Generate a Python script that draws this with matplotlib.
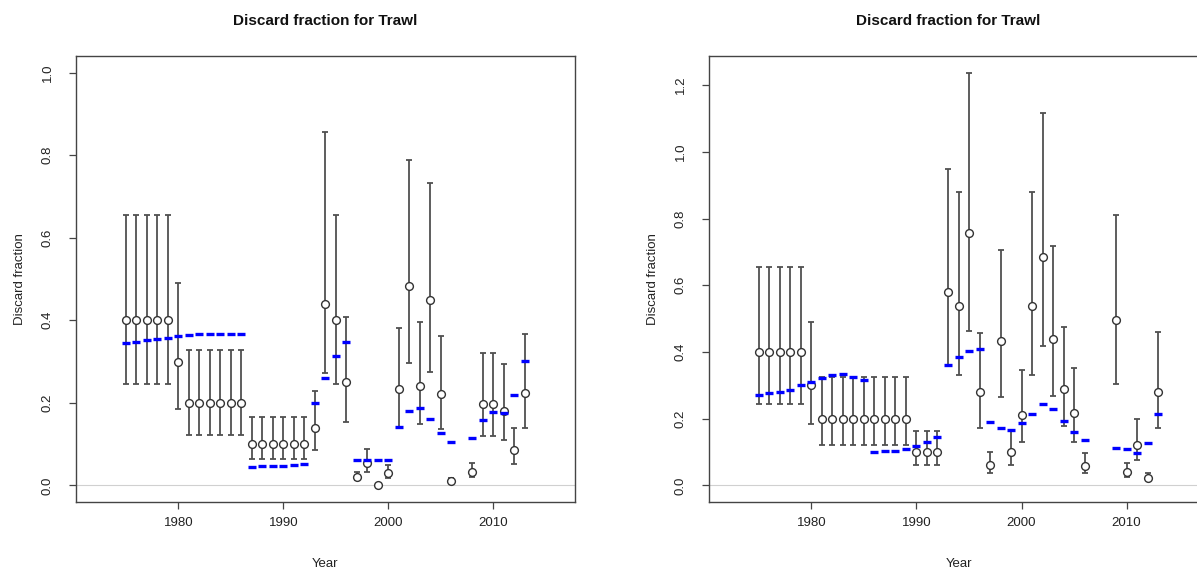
import numpy as np
import matplotlib
matplotlib.use("Agg")
import matplotlib.pyplot as plt

plt.rcParams['font.family'] = ['Liberation Sans', 'DejaVu Sans']

# ---- Panel A data -------------------------------------------------------
years_a = list(range(1975, 2007)) + list(range(2008, 2014))
obs_a = [0.40, 0.40, 0.40, 0.40, 0.40, 0.30,
         0.20, 0.20, 0.20, 0.20, 0.20, 0.20,
         0.10, 0.10, 0.10, 0.10, 0.10, 0.10,
         0.14, 0.44, 0.40, 0.25, 0.020, 0.055, 0.002, 0.030,
         0.233, 0.483, 0.242, 0.448, 0.222, 0.012,
         0.033, 0.197, 0.197, 0.180, 0.086, 0.224]
lo_a = [0.245, 0.245, 0.245, 0.245, 0.245, 0.185,
        0.123, 0.123, 0.123, 0.123, 0.123, 0.123,
        0.063, 0.063, 0.063, 0.063, 0.063, 0.063,
        0.087, 0.272, 0.245, 0.153, 0.013, 0.033, 0.001, 0.019,
        0.142, 0.296, 0.149, 0.276, 0.136, 0.008,
        0.021, 0.121, 0.121, 0.109, 0.053, 0.138]
hi_a = [0.655, 0.655, 0.655, 0.655, 0.655, 0.491,
        0.328, 0.328, 0.328, 0.328, 0.328, 0.328,
        0.165, 0.165, 0.165, 0.165, 0.165, 0.165,
        0.229, 0.856, 0.655, 0.409, 0.033, 0.088, 0.003, 0.050,
        0.381, 0.787, 0.396, 0.732, 0.362, 0.018,
        0.055, 0.322, 0.322, 0.293, 0.140, 0.366]
exp_a = [0.344, 0.348, 0.352, 0.355, 0.358, 0.361,
         0.364, 0.366, 0.366, 0.366, 0.366, 0.366,
         0.045, 0.046, 0.047, 0.048, 0.050, 0.052,
         0.200, 0.260, 0.313, 0.347, 0.062, 0.062, 0.062, 0.062,
         0.142, 0.180, 0.188, 0.162, 0.127, 0.105,
         0.116, 0.158, 0.178, 0.175, 0.218, 0.301]

# ---- Panel B data -------------------------------------------------------
years_b = list(range(1975, 2007)) + list(range(2009, 2014))
obs_b = [0.40, 0.40, 0.40, 0.40, 0.40, 0.30,
         0.20, 0.20, 0.20, 0.20, 0.20, 0.20, 0.20, 0.20, 0.20,
         0.10, 0.10, 0.10,
         0.579, 0.539, 0.757, 0.279, 0.062, 0.433, 0.101, 0.212,
         0.539, 0.684, 0.439, 0.289, 0.216, 0.059,
         0.496, 0.040, 0.122, 0.022, 0.281]
lo_b = [0.245, 0.245, 0.245, 0.245, 0.245, 0.184,
        0.122, 0.122, 0.122, 0.122, 0.122, 0.122, 0.122, 0.122, 0.122,
        0.061, 0.061, 0.061,
        0.361, 0.331, 0.464, 0.171, 0.036, 0.264, 0.061, 0.130,
        0.330, 0.419, 0.269, 0.178, 0.131, 0.036,
        0.304, 0.026, 0.076, 0.015, 0.173]
hi_b = [0.654, 0.654, 0.654, 0.654, 0.654, 0.490,
        0.326, 0.326, 0.326, 0.326, 0.326, 0.326, 0.326, 0.326, 0.326,
        0.164, 0.164, 0.164,
        0.948, 0.880, 1.2375, 0.456, 0.101, 0.706, 0.166, 0.346,
        0.880, 1.117, 0.718, 0.475, 0.352, 0.096,
        0.810, 0.066, 0.200, 0.036, 0.459]
exp_b = [0.271, 0.276, 0.279, 0.287, 0.301, 0.311,
         0.322, 0.331, 0.334, 0.325, 0.317,
         0.100, 0.102, 0.104, 0.110, 0.119, 0.131, 0.144,
         0.361, 0.385, 0.403, 0.408, 0.189, 0.172, 0.166, 0.187,
         0.214, 0.243, 0.229, 0.193, 0.161, 0.136,
         0.113, 0.109, 0.097, 0.127, 0.215]

x_ticks = [1980, 1990, 2000, 2010]
title_text = "Discard fraction for Trawl"

W, H = 1197, 570
fig = plt.figure(figsize=(W / 100, H / 100), dpi=100)
fig.patch.set_facecolor('white')


def px_axes(x0, y_top, w, h):
    return fig.add_axes([x0 / W, (H - y_top - h) / H, w / W, h / H])


def draw_panel(ax, years, obs, lo, hi, exp, ymax, yticks):
    years = np.asarray(years, float)
    obs = np.asarray(obs)
    lo = np.asarray(lo)
    hi = np.asarray(hi)
    ax.axhline(0, color='#d0d0d0', lw=0.8, zorder=1)
    ax.errorbar(years, obs, yerr=[obs - lo, hi - obs], fmt='none',
                ecolor='#505050', elinewidth=1.3, capsize=2.4,
                capthick=1.3, zorder=2)
    ax.plot(years, obs, 'o', ms=5.6, mfc='white', mec='#333333',
            mew=1.0, ls='none', zorder=3)
    ax.plot(years, exp, '_', ms=5.5, mew=2.4, color='#0000ff',
            ls='none', zorder=4)
    pad = 0.04 * ymax
    ax.set_ylim(-pad, ymax + pad)
    ax.set_xlim(1970.24, 2017.76)
    ax.set_xticks(x_ticks)
    ax.set_yticks(yticks)
    ax.set_yticklabels([f"{v:.1f}" for v in yticks], rotation=90,
                       va='center')
    for s in ax.spines.values():
        s.set_color('#444444')
        s.set_linewidth(1.0)
    ax.tick_params(axis='both', direction='out', length=5, width=0.9,
                   color='#444444', labelsize=9.5, labelcolor='#222222')
    ax.tick_params(axis='x', pad=5.5)
    ax.tick_params(axis='y', pad=11)
    ax.set_xlabel("Year", fontsize=9.5, color='#222222', labelpad=21)
    ax.set_ylabel("Discard fraction", fontsize=9.5, color='#222222',
                  labelpad=11.5)


ax1 = px_axes(75.9, 56, 499, 446)
draw_panel(ax1, years_a, obs_a, lo_a, hi_a, exp_a, 1.0,
           [0.0, 0.2, 0.4, 0.6, 0.8, 1.0])
fig.text((75.9 + 249.5) / W, 1 - 21 / H, title_text, ha='center',
         va='center', fontsize=11, fontweight='bold', color='#111111')

ax2 = px_axes(709, 56, 499, 446)
draw_panel(ax2, years_b, obs_b, lo_b, hi_b, exp_b, max(hi_b),
           [0.0, 0.2, 0.4, 0.6, 0.8, 1.0, 1.2])
fig.text(948 / W, 1 - 21 / H, title_text, ha='center', va='center',
         fontsize=11, fontweight='bold', color='#111111')

fig.savefig("out.png", dpi=100, facecolor='white')
